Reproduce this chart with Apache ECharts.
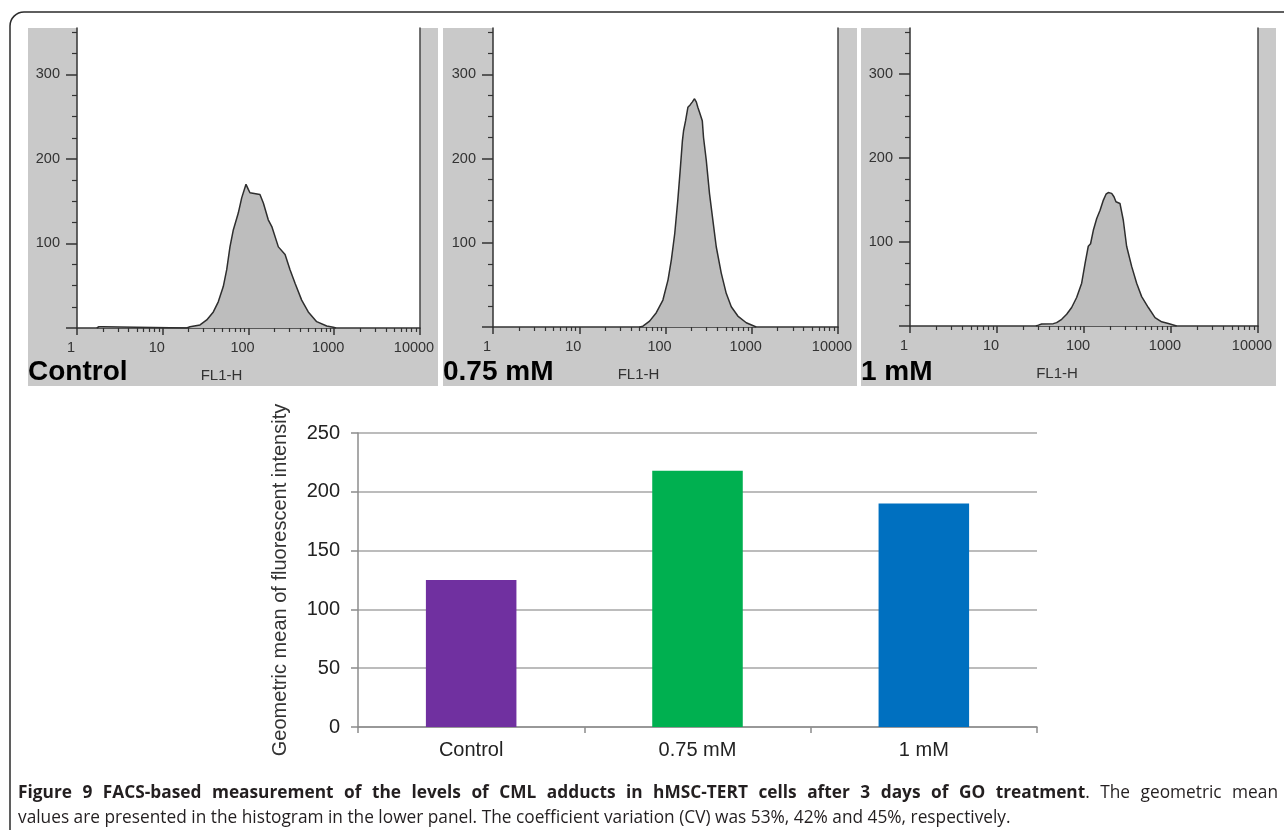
<!DOCTYPE html>
<html>
<head>
<meta charset="utf-8">
<script src="https://cdn.jsdelivr.net/npm/echarts@6/dist/echarts.min.js"></script>
<style>
    html, body { margin: 0; padding: 0; background: #fff; }
    #chart { width: 1284px; height: 830px; }
</style>
</head>
<body>
<div id="chart"></div>
<script>
// FACS histograms (FL1-H channel vs. cell count)
var controlFl = [1.7, 1.8, 2.0, 2.1, 19, 20.8, 27.2, 32.6, 38.9, 44.4, 50.8, 55.7, 60.8, 66.5, 76, 83.3, 93.5, 99.5, 104, 109, 136, 149, 170, 187, 223, 267, 305, 349, 417, 498, 624, 817, 975, 1050];
var controlCount = [0, 1.5, 1.5, 0, 0, 1.5, 3.6, 9.5, 19, 31, 49, 69, 96, 116, 136, 154, 170, 164, 160, 159, 158, 148, 128, 120, 96, 87, 69, 53, 33, 19, 7.5, 2.4, 0.8, 0];

var mid075Fl = [50, 54.7, 65.4, 78.2, 93.3, 107, 117, 128, 139, 148, 157, 162, 171, 182, 194, 204, 217, 228, 237, 248, 260, 267, 276, 297, 324, 354, 388, 443, 506, 579, 690, 864, 1127];
var mid075Count = [0, 1, 7, 17, 32, 56, 80, 111, 151, 186, 221, 233, 245, 261, 264, 267, 271, 267, 261, 255, 254, 245, 225, 198, 158, 127, 95, 64, 40, 24, 13, 5, 0];

var high1Fl = [28, 29.9, 32.6, 44.4, 48.5, 55.4, 63.2, 72.1, 82.3, 94, 103, 112, 119, 128, 140, 153, 167, 179, 190, 208, 221, 233, 244, 259, 283, 309, 353, 403, 460, 549, 655, 781, 932, 1162];
var high1Count = [0, 1, 2.4, 2.8, 4, 8, 14, 22, 34, 51, 75, 95, 98, 114, 128, 138, 150, 157, 159, 158, 154, 148, 150, 146, 126, 95, 71, 51, 35, 22, 10, 5, 3, 0];

var panelNames = ['Control', '0.75 mM', '1 mM'];
var decadeTicks = [1, 10, 100, 1000, 10000];
var logMinorTicks = [2, 3, 4, 5, 6, 7, 8, 9, 20, 30, 40, 50, 60, 70, 80, 90,
    200, 300, 400, 500, 600, 700, 800, 900, 2000, 3000, 4000, 5000, 6000, 7000, 8000, 9000];
var countMajorTicks = [0, 100, 200, 300];
var countLabels = [100, 200, 300];
var countMinorTicks = [25, 50, 75, 125, 150, 175, 225, 250, 275, 325, 350];

// bar chart of geometric means
var barCategories = ['Control', '0.75 mM', '1 mM'];
var barValues = [125, 218, 190];
var barColors = ['#7030a0', '#00b050', '#0070c0'];

var captionBold = 'Figure 9 FACS-based measurement of the levels of CML adducts in hMSC-TERT cells after 3 days of GO treatment';
var captionEnd = 'The geometric mean';
var captionLine2 = 'values are presented in the histogram in the lower panel. The coefficient variation (CV) was 53%, 42% and 45%, respectively.';

var chartDom = document.getElementById('chart');
var myChart = echarts.init(chartDom, null, { renderer: 'canvas' });

var dark = '#333';
var sans = '"Liberation Sans", Arial, sans-serif';
var axisLine = { show: true, onZero: false, lineStyle: { color: dark, width: 1.5 } };

// panel boxes: gray frame and plot rect
var panels = [
    { box: [28, 28, 410, 358], left: 77, width: 343, height: 300, fl: controlFl, cnt: controlCount },
    { box: [443, 28, 414, 358], left: 493, width: 345, height: 299, fl: mid075Fl, cnt: mid075Count },
    { box: [861, 28, 415, 358], left: 910, width: 348, height: 298, fl: high1Fl, cnt: high1Count }
];

var grids = [], xAxes = [], yAxes = [], series = [], graphics = [];

graphics.push({
    type: 'rect', z: -2,
    shape: { x: 10, y: 12, width: 1300, height: 860, r: 14 },
    style: { fill: 'none', stroke: '#2b2b2b', lineWidth: 1.5 }
});

for (var i = 0; i < panels.length; i++) {
    var p = panels[i];
    grids.push({ left: p.left, top: 28, width: p.width, height: p.height, show: true, backgroundColor: '#fff', borderWidth: 0 });

    graphics.push({
        type: 'rect', z: -1,
        shape: { x: p.box[0], y: p.box[1], width: p.box[2], height: p.box[3] },
        style: { fill: '#c9c9c9' }
    });
    graphics.push({
        type: 'text', z: 10,
        x: p.box[0], y: 372,
        style: { text: panelNames[i], font: 'bold 28px ' + sans, fill: '#000', verticalAlign: 'middle' }
    });

    var xi = xAxes.length, yi = yAxes.length;
    xAxes.push({
        type: 'log', logBase: 10, gridIndex: i, position: 'bottom', min: 1, max: 10000,
        axisLine: axisLine,
        axisTick: { show: true, length: 7, customValues: decadeTicks, lineStyle: { color: dark, width: 1.5 } },
        axisLabel: {
            customValues: decadeTicks, margin: 12, fontSize: 14.5, color: dark,
            fontFamily: sans, padding: [0, 12, 0, 0],
            formatter: function (v) { return String(Math.round(v)); }
        },
        splitLine: { show: false },
        name: 'FL1-H', nameLocation: 'middle', nameGap: 40,
        nameTextStyle: { fontSize: 15, color: dark, fontFamily: sans, padding: [0, 54, 0, 0] }
    });
    xAxes.push({
        type: 'log', logBase: 10, gridIndex: i, position: 'bottom', min: 1, max: 10000,
        axisLine: { show: false },
        axisTick: { show: true, length: 4, customValues: logMinorTicks, lineStyle: { color: dark, width: 1.2 } },
        axisLabel: { show: false },
        splitLine: { show: false }
    });
    yAxes.push({
        type: 'value', gridIndex: i, position: 'left', min: 0, max: 355, interval: 100,
        axisLine: axisLine,
        axisTick: { show: true, length: 11, customValues: countMajorTicks, lineStyle: { color: dark, width: 1.5 } },
        axisLabel: { customValues: countLabels, margin: 17, fontSize: 14.5, color: dark, fontFamily: sans },
        splitLine: { show: false }
    });
    yAxes.push({
        type: 'value', gridIndex: i, position: 'left', min: 0, max: 355, interval: 100,
        axisLine: { show: false },
        axisTick: { show: true, length: 5, customValues: countMinorTicks, lineStyle: { color: dark, width: 1.2 } },
        axisLabel: { show: false },
        splitLine: { show: false }
    });
    yAxes.push({
        type: 'value', gridIndex: i, position: 'right', min: 0, max: 355, interval: 100,
        axisLine: { show: true, lineStyle: { color: '#444', width: 1.5 } },
        axisTick: { show: false }, axisLabel: { show: false }, splitLine: { show: false }
    });

    var pts = [];
    for (var k = 0; k < p.fl.length; k++) {
        pts.push([p.fl[k], p.cnt[k]]);
    }
    series.push({
        type: 'line', xAxisIndex: xi, yAxisIndex: yi, data: pts,
        showSymbol: false, symbol: 'none', smooth: false,
        lineStyle: { color: '#2e2e2e', width: 1.5 },
        areaStyle: { color: '#bdbdbd', opacity: 1 },
        z: 3
    });
}

// bottom bar chart
var barGrid = grids.length;
grids.push({ left: 358, top: 433, width: 679, height: 294 });
xAxes.push({
    type: 'category', gridIndex: barGrid, data: barCategories,
    axisLine: { show: true, lineStyle: { color: '#8c8c8c', width: 1.5 } },
    axisTick: { show: true, length: 6, alignWithLabel: false, lineStyle: { color: '#8c8c8c', width: 1.5 } },
    axisLabel: { margin: 13, fontSize: 20, color: '#222', fontFamily: sans }
});
yAxes.push({
    type: 'value', gridIndex: barGrid, min: 0, max: 250, interval: 50,
    axisLine: { show: true, lineStyle: { color: '#8c8c8c', width: 1.5 } },
    axisTick: { show: true, length: 7, lineStyle: { color: '#8c8c8c', width: 1.5 } },
    axisLabel: { margin: 18, fontSize: 20, color: '#222', fontFamily: sans },
    splitLine: { show: true, lineStyle: { color: '#a6a6a6', width: 1.5 } },
    name: 'Geometric mean of fluorescent intensity', nameLocation: 'middle', nameRotate: 90, nameGap: 68,
    nameTextStyle: { fontSize: 20, color: '#333', fontFamily: sans }
});
series.push({
    type: 'bar', xAxisIndex: xAxes.length - 1, yAxisIndex: yAxes.length - 1,
    barWidth: '40%',
    data: barValues.map(function (v, j) {
        return { value: v, itemStyle: { color: barColors[j] } };
    })
});

// caption: first line justified between x=18 and x=1278
var boldFont = 'bold 17.3px "Open Sans", sans-serif';
var normFont = '17.3px "Open Sans", sans-serif';
var measureCtx = document.createElement('canvas').getContext('2d');
function textWidth(str, font) {
    measureCtx.font = font;
    return measureCtx.measureText(str).width;
}
var tokens = [];
captionBold.split(' ').forEach(function (w) { tokens.push([[w, boldFont]]); });
tokens[tokens.length - 1].push(['.', normFont]);
captionEnd.split(' ').forEach(function (w) { tokens.push([[w, normFont]]); });

var used = 0;
tokens.forEach(function (tk) {
    tk.forEach(function (part) { used += textWidth(part[0], part[1]); });
});
var gap = (1278 - 18 - used) / (tokens.length - 1);
var cx = 18;
tokens.forEach(function (tk) {
    tk.forEach(function (part) {
        graphics.push({
            type: 'text', x: cx, y: 793,
            style: { text: part[0], verticalAlign: 'middle', font: part[1], fill: '#231f20' }
        });
        cx += textWidth(part[0], part[1]);
    });
    cx += gap;
});
graphics.push({
    type: 'text', x: 18, y: 818,
    style: { text: captionLine2, verticalAlign: 'middle', font: normFont, fill: '#231f20' }
});

var option = {
    animation: false,
    backgroundColor: '#fff',
    grid: grids,
    xAxis: xAxes,
    yAxis: yAxes,
    series: series,
    graphic: { elements: graphics }
};

option && myChart.setOption(option);
</script>
</body>
</html>
